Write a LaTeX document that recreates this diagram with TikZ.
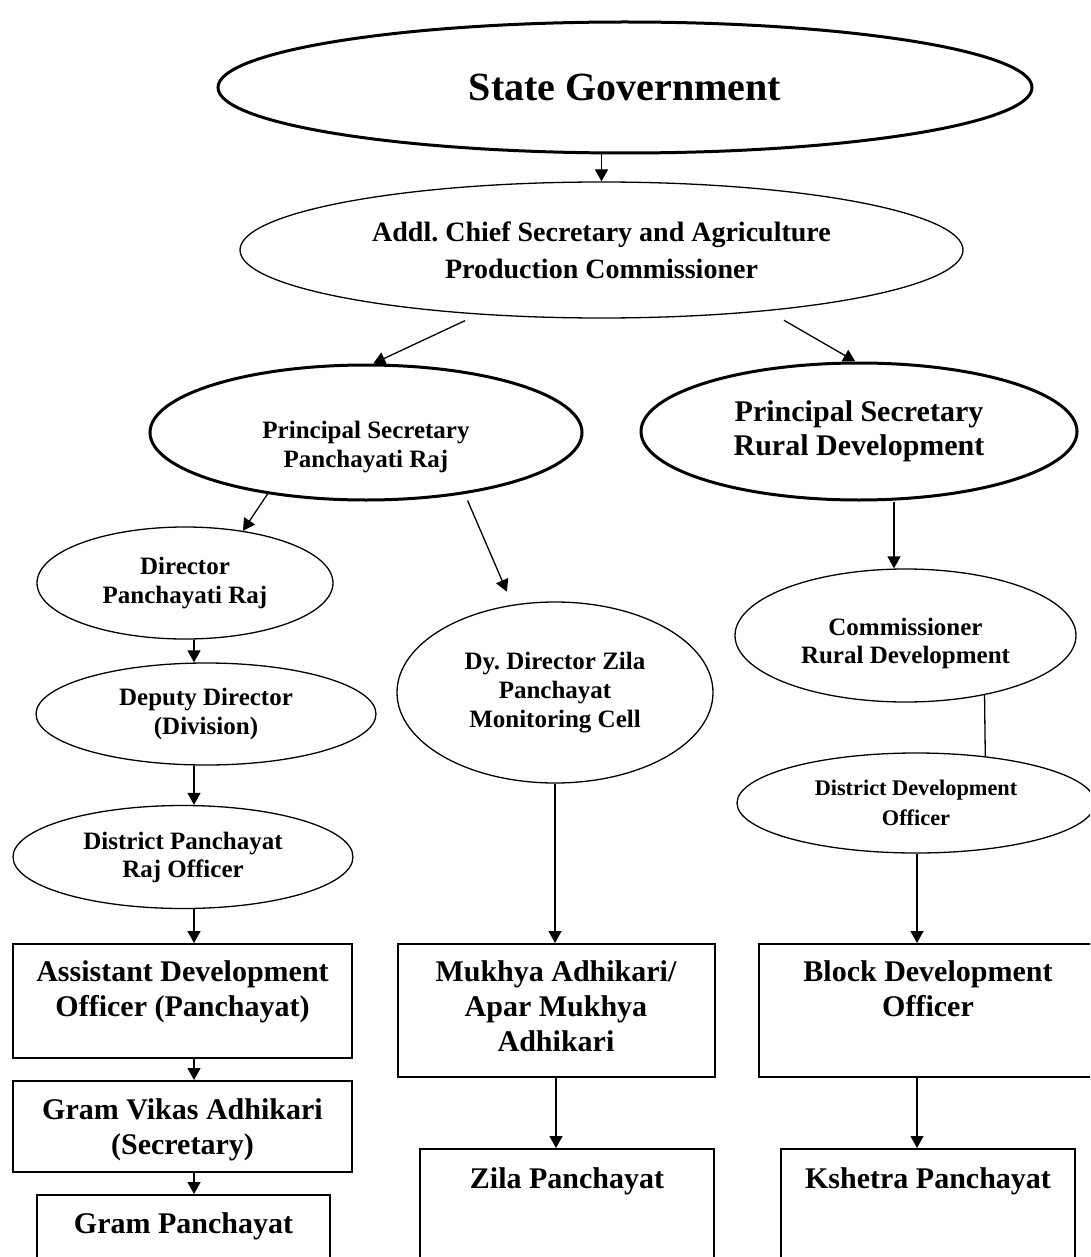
\documentclass[tikz,border=0pt]{standalone}
\usepackage{fontspec}
\setmainfont{Liberation Serif}
\frenchspacing
\usetikzlibrary{arrows.meta,positioning,shapes.geometric}
\tikzset{
  oval/.style={ellipse,draw,line width=1.3pt,inner sep=0pt,align=center},
  bigoval/.style={oval,line width=3pt},
  box/.style={draw,line width=2pt,anchor=north,inner xsep=0pt,inner ysep=0pt,align=flush center,font=\fontsize{30}{35}\selectfont\bfseries},
  arrow/.style={-{Triangle[length=12pt,width=13pt]},line width=1.3pt}
}

\begin{document}
\begin{tikzpicture}[x=1pt,y=-1pt]
\useasboundingbox (0,0) rectangle (1090,1257);
\clip (0,0) rectangle (1090,1257);
\coordinate (colL) at (194,0);
\coordinate (colRD) at (894,0);
\coordinate (colR) at (917,0);
% ellipses
\node[bigoval,minimum width=814pt,minimum height=131pt,font=\fontsize{40}{46}\selectfont\bfseries](sg) at (625,87.5){State Government};
\node[oval,minimum width=723pt,minimum height=136pt,font=\fontsize{28}{37}\selectfont\bfseries](acs) at (601.5,250){Addl. Chief Secretary and Agriculture\\Production Commissioner};
\node[bigoval,minimum width=432pt,minimum height=135pt,text width=230pt,text height=40pt,text depth=29pt,align=flush center,font=\fontsize{25}{29}\selectfont\bfseries](pspr) at (366,432.5){Principal Secretary\\Panchayati Raj};
\node[bigoval,minimum width=436pt,minimum height=137pt,font=\fontsize{30}{34}\selectfont\bfseries](psrd) at (859,431.5){Principal Secretary\\Rural Development};
\node[oval,minimum width=296pt,minimum height=112pt,font=\fontsize{25}{29}\selectfont\bfseries](dpr) at (185,583){Director\\Panchayati Raj};
\node[oval,minimum width=340pt,minimum height=102pt,font=\fontsize{25}{29}\selectfont\bfseries](ddv) at (206,714){Deputy Director\\(Division)};
\node[oval,minimum width=340pt,minimum height=103pt,font=\fontsize{25}{28}\selectfont\bfseries](dpro) at (183,857){District Panchayat\\Raj Officer};
\node[oval,minimum width=316pt,minimum height=181pt,font=\fontsize{25}{29}\selectfont\bfseries](dyd) at (555,692.5){Dy. Director Zila\\Panchayat\\Monitoring Cell};
\node[oval,minimum width=341pt,minimum height=133pt,text width=220pt,text height=35pt,text depth=35pt,align=flush center,font=\fontsize{25}{28}\selectfont\bfseries](crd) at (905.5,635.5){Commissioner\\Rural Development};
\node[oval,minimum width=358pt,minimum height=100pt,font=\fontsize{22.3}{30}\selectfont\bfseries](ddo) at (916,803){District Development\\Officer};
% boxes
\node[box,text width=339pt,text height=37pt,text depth=77pt](ado) at (182.5,943){Assistant Development\\Officer (Panchayat)};
\node[box,text width=339pt,text height=38pt,text depth=53pt](gva) at (182.5,1080){Gram Vikas Adhikari\\(Secretary)};
\node[box,text width=293pt,text height=38pt,text depth=120pt](gp) at (183.5,1194){Gram Panchayat};
\node[box,text width=317pt,text height=37pt,text depth=96pt](mak) at (556,943){Mukhya Adhikari/\\Apar Mukhya\\Adhikari};
\node[box,text width=294pt,text height=39pt,text depth=120pt](zp) at (567,1148){Zila Panchayat};
\node[box,text width=338pt,text height=37pt,text depth=96pt](bdo) at (928,943){Block Development\\Officer};
\node[box,text width=294pt,text height=39pt,text depth=120pt](kp) at (928,1148){Kshetra Panchayat};
% connectors
\draw[arrow](sg.south -| acs.north) -- (acs.north);
\draw[arrow]([yshift=-7pt]acs.205) -- (pspr.84);
\draw[arrow]([yshift=-11pt]acs.342) -- (psrd.93);
\draw[arrow](pspr.212) -- (dpr.42);
\draw[arrow]([yshift=-7pt]pspr.329) -- ([yshift=14pt]dyd.119);
\draw[arrow](dpr.south -| colL) -- (ddv.north -| colL);
\draw[arrow](ddv.south -| colL) -- (dpro.north -| colL);
\draw[arrow](dpro.south -| colL) -- (ado.north -| colL);
\draw[arrow](ado.south -| colL) -- (gva.north -| colL);
\draw[arrow](gva.south -| colL) -- (gp.north -| colL);
\draw[arrow](dyd.south) -- (dyd.south |- mak.north);
\draw[arrow](mak.south) -- (mak.south |- zp.north);
\draw[arrow](psrd.south -| colRD) -- (crd.north -| colRD);
\draw[line width=1.3pt](crd.323) -- (ddo.34);
\draw[arrow](ddo.south -| colR) -- (bdo.north -| colR);
\draw[arrow](bdo.south -| colR) -- (kp.north -| colR);
\end{tikzpicture}
\end{document}
